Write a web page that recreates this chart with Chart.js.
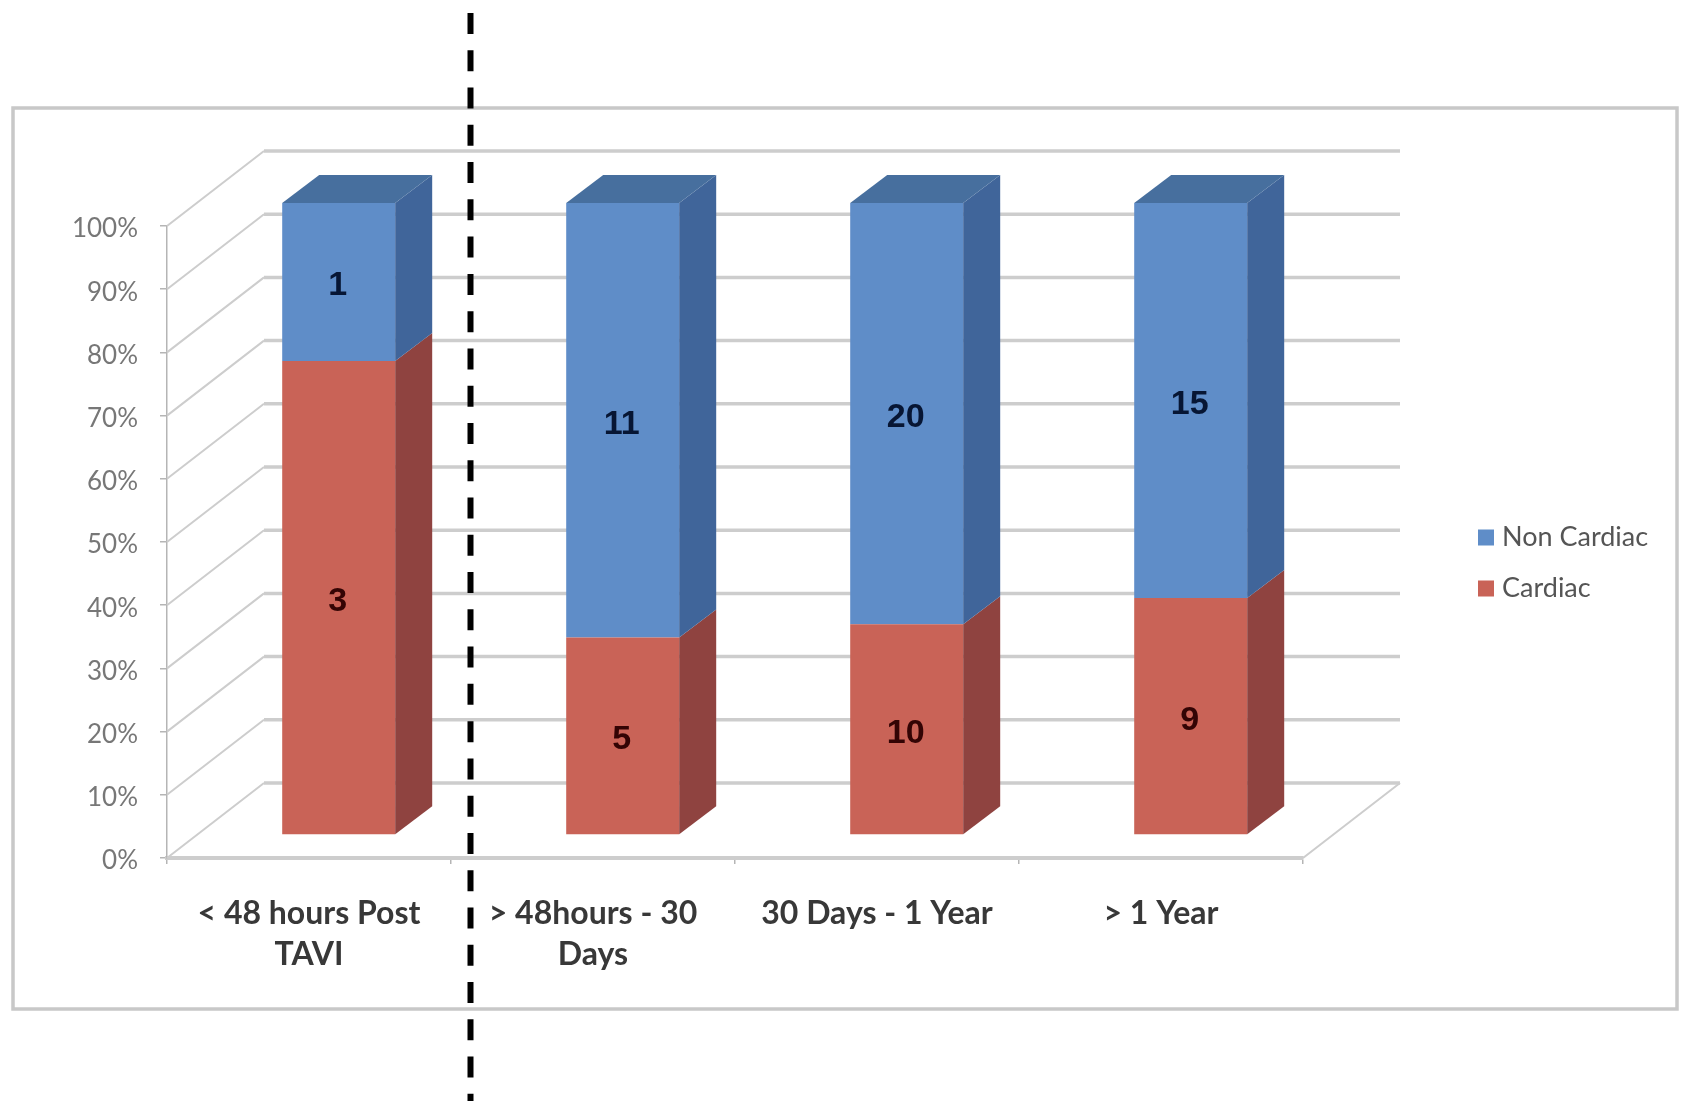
<!DOCTYPE html>
<html>
<head>
<meta charset="utf-8">
<title>Deaths after TAVI by timing and cause</title>
<style>
  html, body { margin: 0; padding: 0; background: #fff; }
  canvas { display: block; }
</style>
<script src="https://cdn.jsdelivr.net/npm/chart.js@4/dist/chart.umd.min.js"></script>
</head>
<body>
<canvas id="chart" width="1688" height="1101"></canvas>
<script>
// Counts per time window; bars show each cause's share of the window total.
const categories = [["< 48 hours Post", "TAVI"], ["> 48hours - 30", "Days"], "30 Days - 1 Year", "> 1 Year"];
const cardiacCounts = [3, 5, 10, 9];
const nonCardiacCounts = [1, 11, 20, 15];
const shareOf = (part, other) => part.map((v, i) => v / (v + other[i]) * 100);

// Pseudo-3D projection: depth offsets relative to the front plane of the axes.
const WALL = { dx: 97, dy: -75 };
const BAR_FRONT = { dx: 29.7, dy: -23 };
const BAR_DEPTH = { dx: 37, dy: -28 };
const LEGEND_BAND = 385;

const COLORS = {
  blue: "#5f8dc8", blueSide: "#40659a", blueTop: "#476f9e",
  red: "#c96357", redSide: "#8f4340",
  grid: "#cdcdcd", frame: "#c8c8c8",
  inkOnBlue: "#071634", inkOnRed: "#330404"
};

function segment(ctx, x1, y1, x2, y2, color, width) {
  ctx.beginPath();
  ctx.moveTo(x1, y1);
  ctx.lineTo(x2, y2);
  ctx.strokeStyle = color;
  ctx.lineWidth = width;
  ctx.stroke();
}

function quad(ctx, pts, color) {
  ctx.beginPath();
  pts.forEach((p, i) => i ? ctx.lineTo(p[0], p[1]) : ctx.moveTo(p[0], p[1]));
  ctx.closePath();
  ctx.fillStyle = color;
  ctx.fill();
}

const perspective = {
  id: "perspective",
  beforeLayout(chart) {
    // Reserve the whole band right of the floor for the legend.
    const lg = chart.legend;
    if (!lg._bandFit) {
      const fit = lg.fit;
      lg.fit = function () { fit.call(this); this.width = LEGEND_BAND; };
      lg._bandFit = true;
    }
  },
  afterLayout(chart) {
    // Place the legend block inside its band.
    const lg = chart.legend;
    const pad = lg.options.labels.padding;
    lg.left = 1483.5 - pad;
    lg.right = chart.width;
    lg.top = 524 - pad;
    lg.bottom = lg.top + 130;
  },
  beforeDraw(chart) {
    const ctx = chart.ctx;
    ctx.save();
    ctx.strokeStyle = COLORS.frame;
    ctx.lineWidth = 3.5;
    ctx.strokeRect(13, 108, 1664, 901);
    ctx.restore();
  },
  beforeDatasetsDraw(chart) {
    const ctx = chart.ctx;
    const y = chart.scales.y;
    const { left, right, bottom } = chart.chartArea;
    ctx.save();
    // Back wall rules and the matching diagonals on the side wall.
    y.ticks.forEach(t => {
      const py = y.getPixelForValue(t.value);
      segment(ctx, left, py, left + WALL.dx, py + WALL.dy, COLORS.grid, 2);
      segment(ctx, left + WALL.dx, py + WALL.dy, right + WALL.dx, py + WALL.dy, COLORS.grid, 3.5);
    });
    // Right edge of the floor.
    segment(ctx, right, bottom, right + WALL.dx, bottom + WALL.dy, COLORS.grid, 2);
    ctx.restore();
    // Bars sit slightly behind the axis plane.
    ctx.save();
    ctx.translate(BAR_FRONT.dx, BAR_FRONT.dy);
  },
  afterDatasetsDraw(chart) {
    const ctx = chart.ctx;
    const sides = [COLORS.redSide, COLORS.blueSide];
    const inks = [COLORS.inkOnRed, COLORS.inkOnBlue];
    const counts = [cardiacCounts, nonCardiacCounts];
    chart.data.datasets.forEach((ds, d) => {
      chart.getDatasetMeta(d).data.forEach((bar, i) => {
        const r = bar.x + bar.width / 2;
        const top = Math.min(bar.y, bar.base);
        const bot = Math.max(bar.y, bar.base);
        quad(ctx, [[r, top], [r + BAR_DEPTH.dx, top + BAR_DEPTH.dy],
                   [r + BAR_DEPTH.dx, bot + BAR_DEPTH.dy], [r, bot]], sides[d]);
        if (d === 1) {
          const l = bar.x - bar.width / 2;
          quad(ctx, [[l, top], [r, top], [r + BAR_DEPTH.dx, top + BAR_DEPTH.dy],
                     [l + BAR_DEPTH.dx, top + BAR_DEPTH.dy]], COLORS.blueTop);
        }
        ctx.fillStyle = inks[d];
        ctx.font = "bold 34px 'Liberation Sans', Arial, sans-serif";
        ctx.textAlign = "center";
        ctx.textBaseline = "middle";
        ctx.fillText(String(counts[d][i]), bar.x - 1, (top + bot) / 2 + 4);
      });
    });
    ctx.restore();
  },
  afterDraw(chart) {
    // Dashed divider between the first two time windows.
    const ctx = chart.ctx;
    ctx.save();
    ctx.setLineDash([21, 16.27]);
    segment(ctx, 470.5, 13, 470.5, chart.height, "#000", 6);
    ctx.restore();
  }
};

new Chart(document.getElementById("chart"), {
  type: "bar",
  data: {
    labels: categories,
    datasets: [
      { label: "Cardiac", data: shareOf(cardiacCounts, nonCardiacCounts), backgroundColor: COLORS.red, borderWidth: 0, clip: false },
      { label: "Non Cardiac", data: shareOf(nonCardiacCounts, cardiacCounts), backgroundColor: COLORS.blue, borderWidth: 0, clip: false }
    ]
  },
  plugins: [perspective],
  options: {
    responsive: false,
    animation: false,
    events: [],
    layout: { padding: { top: 226, left: 40, right: 0, bottom: 0 } },
    datasets: { bar: { barPercentage: 113 / 284, categoryPercentage: 1 } },
    scales: {
      x: {
        stacked: true,
        grid: { drawOnChartArea: false, color: "#b5b5b5", lineWidth: 1.5, tickLength: 6 },
        border: { color: COLORS.grid, width: 4 },
        ticks: {
          autoSkip: false, maxRotation: 0, minRotation: 0, padding: 29,
          color: "#383838",
          font: { family: "Lato, 'Liberation Sans', sans-serif", size: 32, weight: "bold", lineHeight: 41 / 32 }
        },
        afterFit(scale) { scale.height = 243; }
      },
      y: {
        stacked: true,
        min: 0,
        max: 100,
        grid: { drawOnChartArea: false, color: "#b5b5b5", lineWidth: 1.5, tickLength: 7 },
        border: { color: "#b5b5b5", width: 1.5 },
        ticks: {
          stepSize: 10,
          padding: 22,
          labelOffset: 3,
          color: "#777777",
          font: { family: "Lato, 'Liberation Sans', sans-serif", size: 26 },
          callback: v => v + "%"
        },
        afterFit(scale) { scale.width = 127; }
      }
    },
    plugins: {
      title: { display: false },
      tooltip: { enabled: false },
      legend: {
        position: "right",
        align: "start",
        reverse: true,
        labels: {
          boxWidth: 5,
          boxHeight: 5,
          padding: 24,
          color: "#555555",
          font: { family: "Lato, 'Liberation Sans', sans-serif", size: 27 },
          generateLabels(chart) {
            return Chart.defaults.plugins.legend.labels.generateLabels(chart)
              .map(item => ({ ...item, lineWidth: 11, strokeStyle: item.fillStyle }));
          }
        }
      }
    }
  }
});
</script>
</body>
</html>
